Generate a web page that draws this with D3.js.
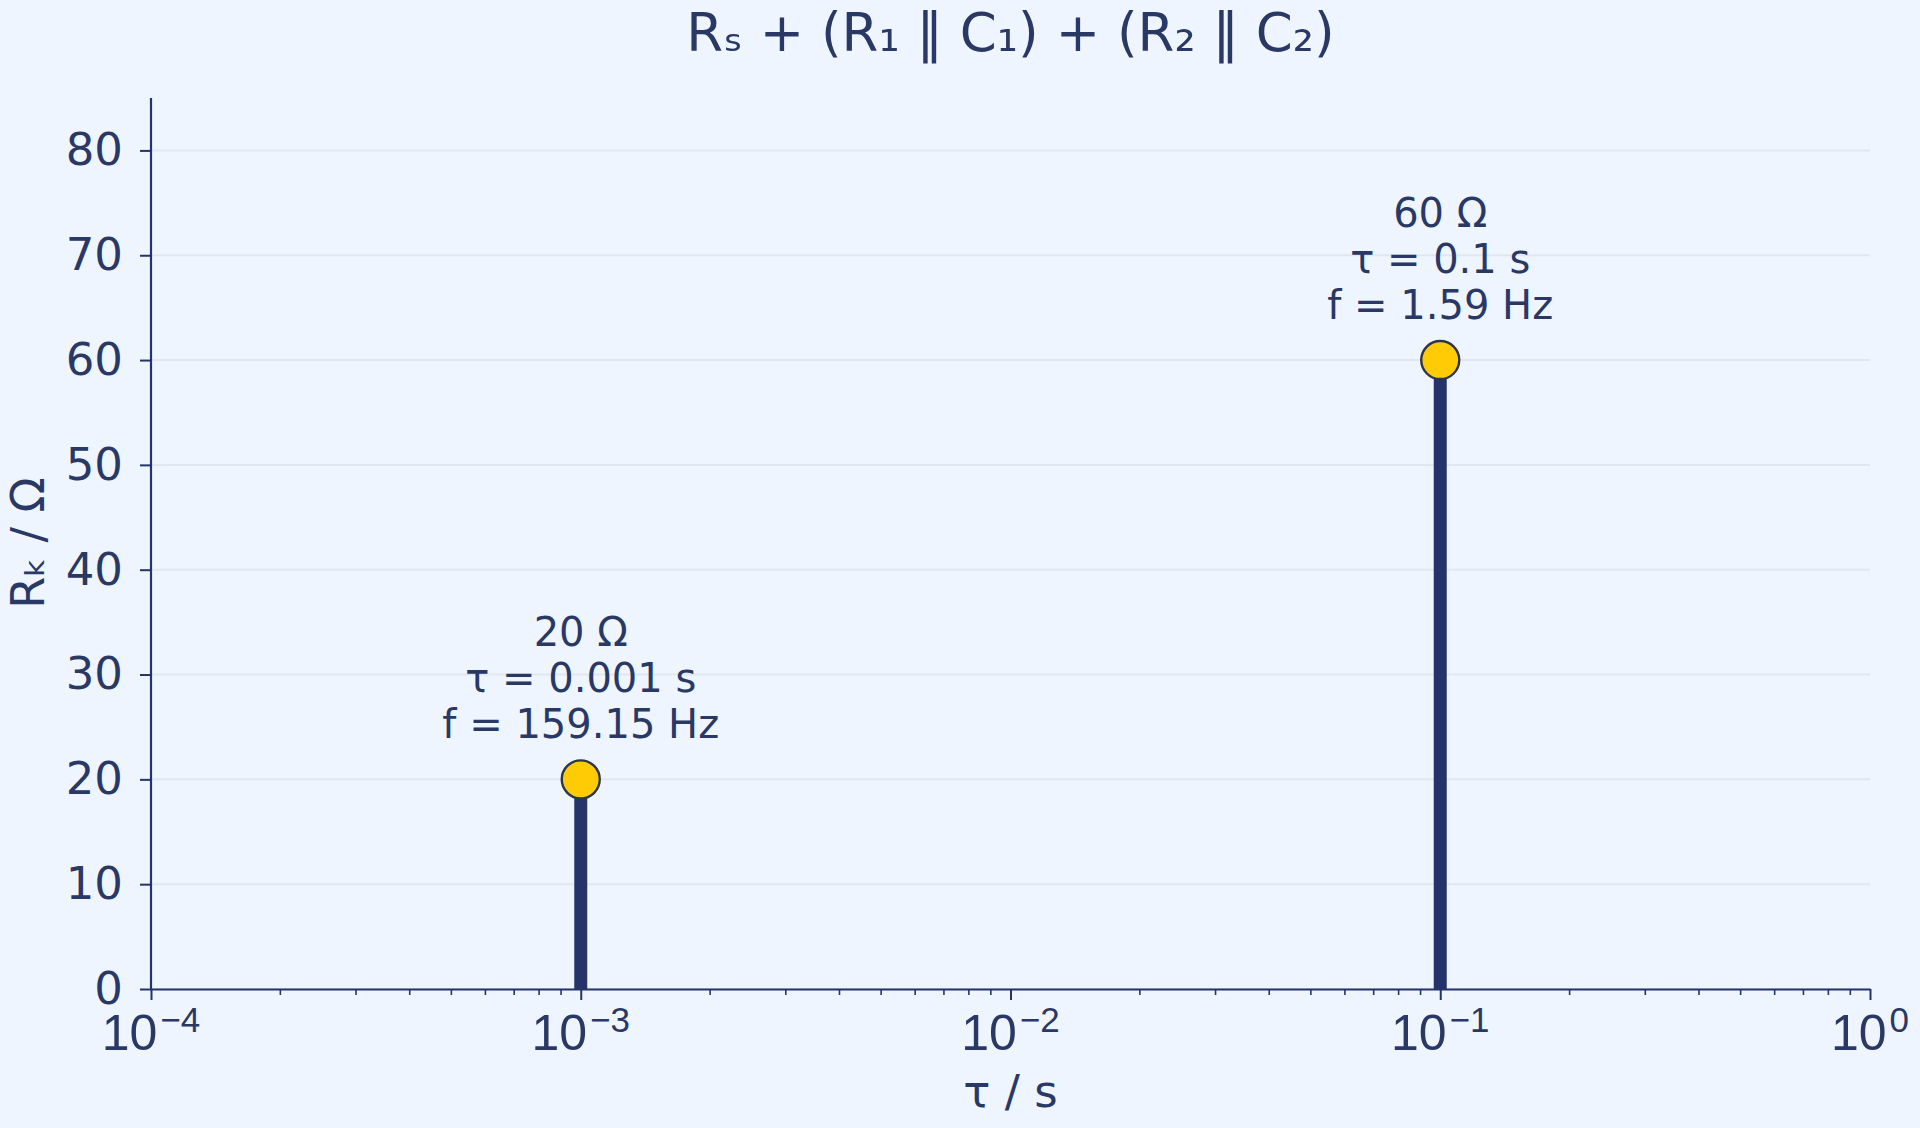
<!DOCTYPE html>
<html>
<head>
<meta charset="utf-8">
<script src="https://cdn.jsdelivr.net/npm/d3@7"></script>
<style>
  html, body { margin: 0; padding: 0; background: #eff5fe; }
  svg { display: block; font-family: "DejaVu Sans", sans-serif; }
</style>
</head>
<body>
<div id="chart"></div>
<script>
// chart data
const tauValues = [0.001, 0.1];          // time constants (s)
const resistances = [20, 60];            // R_k (Ohm)
const freqValues = [159.15, 1.59];       // characteristic frequency (Hz)
const yTickValues = [0, 10, 20, 30, 40, 50, 60, 70, 80];
const xTickValues = [1e-4, 1e-3, 1e-2, 1e-1, 1e0];
const xTickExponents = ['\u22124', '\u22123', '\u22122', '\u22121', '0'];
const titleText = 'R\u209B + (R\u2081 \u2016 C\u2081) + (R\u2082 \u2016 C\u2082)';

const W = 1920, H = 1128;
const margin = { top: 98, right: 50, bottom: 139, left: 151 };
const w = 1870 - margin.left;
const h = 989 - margin.top;

const navy = '#243369';
const textCol = '#2a3865';
const gridCol = '#e0e7f1';

const svg = d3.select('#chart').append('svg')
  .attr('width', W)
  .attr('height', H);

svg.append('rect').attr('width', W).attr('height', H).attr('fill', '#eff5fe');

const g = svg.append('g')
  .attr('transform', `translate(${margin.left}, ${margin.top})`);

// scales
const x = d3.scaleLog().domain([1e-4, 1]).range([0, w]);
const y = d3.scaleLinear().domain([0, 85]).range([h, 0]);

// horizontal grid
g.append('g')
  .selectAll('line')
  .data(yTickValues)
  .join('line')
  .attr('x1', 0).attr('x2', w)
  .attr('y1', d => y(d)).attr('y2', d => y(d))
  .attr('stroke', gridCol)
  .attr('stroke-width', 2);

// minor ticks for log axis
const minorTicks = [];
for (let e = -4; e < 0; e++) {
  for (let m = 2; m <= 9; m++) minorTicks.push(m * Math.pow(10, e));
}

const xAxis = d3.axisBottom(x)
  .tickValues(xTickValues)
  .tickSizeInner(11)
  .tickSizeOuter(0)
  .tickFormat('');

const $xAxis = g.append('g')
  .attr('class', 'x axis')
  .attr('transform', `translate(0, ${h})`)
  .call(xAxis);

$xAxis.append('g')
  .selectAll('line')
  .data(minorTicks)
  .join('line')
  .attr('x1', d => x(d)).attr('x2', d => x(d))
  .attr('y1', 0).attr('y2', 6)
  .attr('stroke', navy)
  .attr('stroke-width', 1.6);

// x tick labels with superscript exponents
const xLabels = $xAxis.append('g')
  .selectAll('text')
  .data(xTickValues)
  .join('text')
  .attr('x', d => x(d))
  .attr('y', 61)
  .attr('text-anchor', 'middle')
  .attr('fill', textCol)
  .style('font-size', '50px');
xLabels.append('tspan').text('10');
xLabels.append('tspan')
  .attr('dx', 3)
  .attr('dy', -18)
  .style('font-size', '35px')
  .text((d, i) => xTickExponents[i]);

const yAxis = d3.axisLeft(y)
  .tickValues(yTickValues)
  .tickSizeInner(11)
  .tickSizeOuter(0)
  .tickPadding(17);

const $yAxis = g.append('g')
  .attr('class', 'y axis')
  .call(yAxis);
$yAxis.select('.domain').attr('d', `M0,0V${h}`);

g.selectAll('.axis .domain').attr('stroke', navy).attr('stroke-width', 2.2);
g.selectAll('.axis .tick line').attr('stroke', navy).attr('stroke-width', 2);
$yAxis.selectAll('.tick text')
  .attr('fill', textCol)
  .style('font-size', '45px')
  .style('font-family', '"DejaVu Sans", sans-serif');

// stems
g.append('g')
  .selectAll('line')
  .data(tauValues)
  .join('line')
  .attr('x1', d => x(d)).attr('x2', d => x(d))
  .attr('y1', y(0))
  .attr('y2', (d, i) => y(resistances[i]))
  .attr('stroke', navy)
  .attr('stroke-width', 13);

// markers
g.append('g')
  .selectAll('circle')
  .data(tauValues)
  .join('circle')
  .attr('cx', d => x(d))
  .attr('cy', (d, i) => y(resistances[i]))
  .attr('r', 19)
  .attr('fill', '#fecb05')
  .attr('stroke', '#2b3550')
  .attr('stroke-width', 2.4);

// annotations
const notes = g.append('g')
  .selectAll('text')
  .data(tauValues)
  .join('text')
  .attr('text-anchor', 'middle')
  .attr('fill', textCol)
  .style('font-size', '40px');
notes.each(function (d, i) {
  const lines = [`${resistances[i]} \u03A9`, `\u03C4 = ${d} s`, `f = ${freqValues[i]} Hz`];
  const t = d3.select(this);
  lines.forEach((s, k) => {
    t.append('tspan')
      .attr('x', x(d))
      .attr('y', y(resistances[i]) - 41 - (2 - k) * 46)
      .text(s);
  });
});

// title and axis labels
svg.append('text')
  .attr('x', margin.left + w / 2)
  .attr('y', 51)
  .attr('text-anchor', 'middle')
  .attr('fill', textCol)
  .style('font-size', '53px')
  .text(titleText);

svg.append('text')
  .attr('x', margin.left + w / 2)
  .attr('y', 1107)
  .attr('text-anchor', 'middle')
  .attr('fill', textCol)
  .style('font-size', '45px')
  .text('\u03C4 / s');

svg.append('text')
  .attr('transform', 'translate(44, 543) rotate(-90)')
  .attr('text-anchor', 'middle')
  .attr('fill', textCol)
  .style('font-size', '46px')
  .text('R\u2096 / \u03A9');
</script>
</body>
</html>
